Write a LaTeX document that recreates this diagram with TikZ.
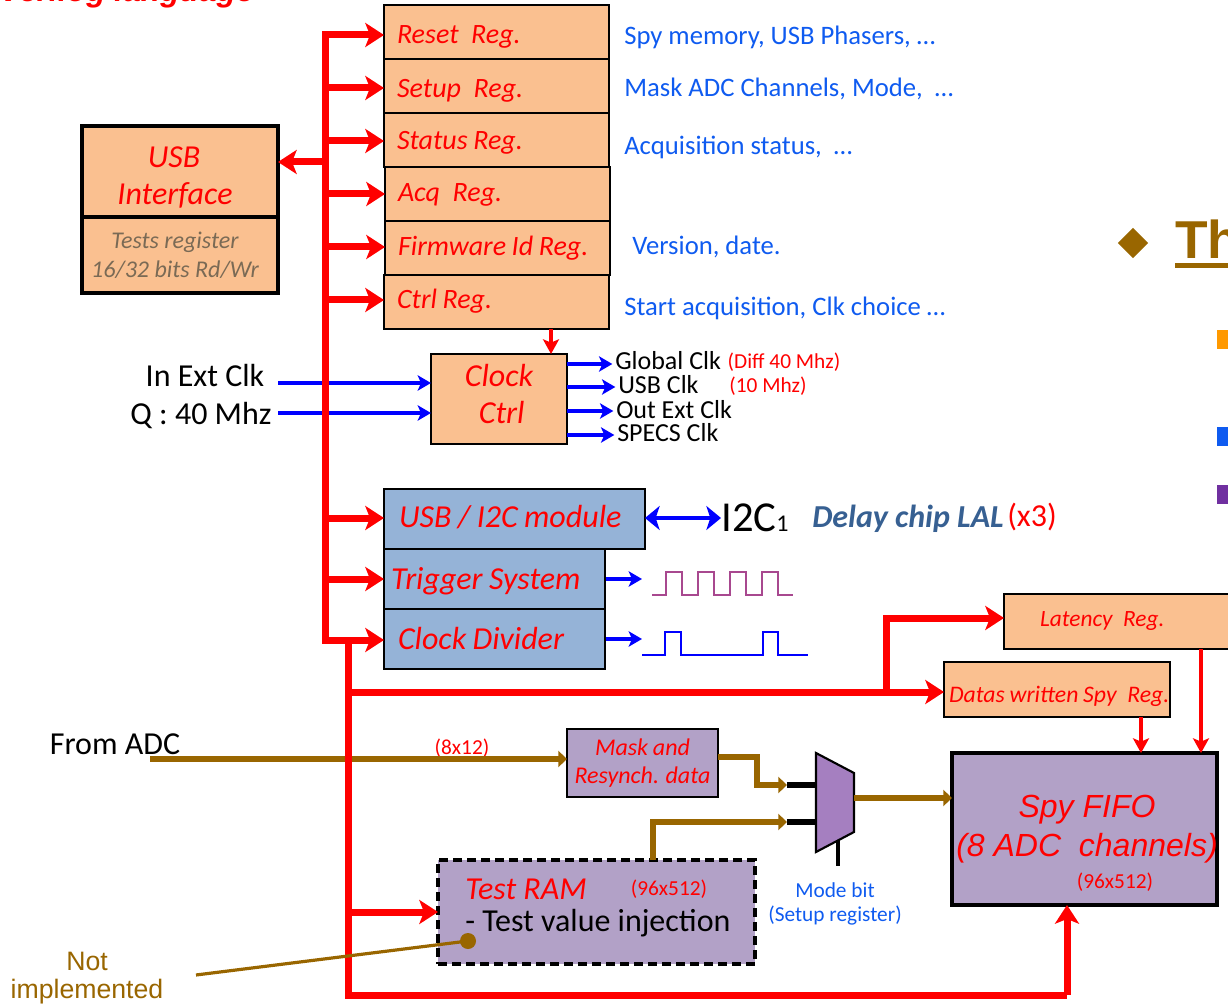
\documentclass[tikz,border=0pt]{standalone}
\usepackage{fontspec}
\setmainfont{Carlito}
\newfontfamily\arialfont{Liberation Sans}
\usepackage{xcolor}
\usepackage{tikz}
\usetikzlibrary{arrows.meta,positioning,calc,shapes.geometric}
\definecolor{regorange}{HTML}{FAC090}
\definecolor{modblue}{HTML}{95B3D7}
\definecolor{fifopurple}{HTML}{B2A1C7}
\definecolor{muxpurple}{HTML}{A57FC0}
\definecolor{adcbrown}{HTML}{996600}
\definecolor{notewblue}{HTML}{0F5BF0}
\definecolor{chipblue}{HTML}{376092}
\definecolor{testgray}{HTML}{7A6A55}
\definecolor{wavepurple}{HTML}{A8488F}
\definecolor{bulletorange}{HTML}{FF9900}
\definecolor{bulletpurple}{HTML}{7030A0}
\newcommand{\fsize}[1]{\fontsize{#1}{1.2\dimexpr#1pt\relax}\selectfont}
\newcommand{\tightit}{\itshape\spaceskip=.2em\relax}
\tikzset{
  plainbox/.style={draw,line width=1.8pt,anchor=north west,inner sep=0pt,outer sep=0pt,text=red},
  regbox/.style={plainbox,fill=regorange,
    minimum width=168.75pt,minimum height=40.5pt,text width=149.25pt,align=flush left,
    text height=17pt,text depth=0pt,font=\fsize{21}\tightit},
  modbox/.style={plainbox,fill=modblue,
    minimum height=45pt,align=flush left,text height=15pt,text depth=0pt,font=\fsize{24}\tightit},
  sidenote/.style={anchor=west,inner sep=0pt,text=notewblue,font=\fsize{20}},
  clklabel/.style={anchor=west,inner sep=0pt,font=\fsize{19.5}},
  redsmall/.style={anchor=center,inner sep=0pt,text=red,font=\fsize{16}},
  blacktext/.style={inner sep=0pt,font=\fsize{24}},
  busline/.style={draw=red,line width=5.25pt},
  busarrow/.style={red,line width=5.25pt,-{Stealth[length=14pt,width=18pt,inset=3.5pt]}},
  thinred/.style={red,line width=2.6pt,-{Stealth[length=11pt,width=12pt,inset=2.5pt]}},
  clkarrow/.style={blue,line width=2.6pt,-{Stealth[length=10pt,width=11.5pt,inset=2.5pt]}},
  dataarrow/.style={adcbrown,line width=4pt,-{Stealth[length=6.5pt,width=12pt,inset=0pt]}}
}

\begin{document}
\begin{tikzpicture}[x=.75pt,y=-.75pt]
  \useasboundingbox (0,0) rectangle (1228,1005);
  \clip (0,0) rectangle (1228,1005);
  % registers
  \node[regbox] (resetreg) at (384,5) {Reset\hspace{.45em}Reg.};
  \node[regbox,below=0pt of resetreg] (setupreg) {Setup\hspace{.45em}Reg.};
  \node[regbox,below=0pt of setupreg,text height=14pt] (statusreg) {Status Reg.};
  \node[regbox,below=0pt of statusreg,xshift=.75pt,text height=11pt] (acqreg) {Acq\hspace{.45em}Reg.};
  \node[regbox,below=0pt of acqreg,text height=11pt] (firmwarereg) {Firmware Id Reg.};
  \node[regbox,below=0pt of firmwarereg,xshift=-.75pt,text height=9.5pt] (ctrlreg) {Ctrl Reg.};
  % usb interface
  \node[plainbox,line width=3pt,fill=regorange,minimum width=147pt,minimum height=68.25pt,
    align=center,font=\fsize{24}\itshape] (usbif) at (82,126) {\rule{0pt}{24pt}\hspace*{-9pt}USB\\[-1pt]\hspace*{-7.5pt}Interface};
  \node[plainbox,line width=3pt,fill=regorange,below=0pt of usbif,anchor=north,minimum width=147pt,minimum height=57pt,
    align=center,text=testgray,font=\fsize{18}\itshape] (testsreg) {\hspace*{-7.5pt}Tests register\\\hspace*{-7.5pt}16/32 bits Rd/Wr};
  % clock control
  \node[plainbox,fill=regorange,minimum width=102pt,minimum height=67.5pt,
    align=center,font=\fsize{24}\itshape] (clockctrl) at (431,354) {Clock\\[-1pt]\hspace*{4pt}Ctrl\rule[-7pt]{0pt}{1pt}};
  % modules
  \node[modbox,minimum width=195.75pt,text width=173pt,text height=12pt] (i2cmod) at (384,489) {USB / I2C module};
  \node[modbox,minimum width=165.75pt,text width=155pt,below=0pt of i2cmod.south west,anchor=north west] (trigsys) {Trigger System};
  \node[modbox,minimum width=165.75pt,text width=144.75pt,below=0pt of trigsys.south west,anchor=north west] (clkdiv) {Clock Divider};
  % lower registers and fifo
  \node[plainbox,fill=regorange,minimum width=180pt,minimum height=41.25pt,
    text width=126pt,align=flush left,font=\fsize{17.5}\tightit] (latencyreg) at (1004,594) {Latency\hspace{.45em}Reg.};
  \node[plainbox,fill=regorange,minimum width=169.5pt,minimum height=41.25pt,
    text width=162pt,align=flush left,text height=18.8pt,text depth=0pt,font=\fsize{17.8}\tightit] (datasreg) at (944,662) {\mbox{Datas written Spy\hspace{.45em}Reg.}};
  \node[plainbox,line width=3pt,fill=fifopurple,minimum width=198.75pt,minimum height=114pt] (spyfifo) at (952,753) {};
  \node[plainbox,fill=fifopurple,minimum width=113.25pt,minimum height=51pt,
    align=flush center,font=\fsize{18}\tightit] (maskres) at (567,729) {Mask and\\[0pt]Resynch. data};
  \node[plainbox,line width=2.4pt,dash pattern=on 6.5pt off 4pt,fill=fifopurple,minimum width=237.75pt,minimum height=78pt] (testram) at (438,860) {};
  % labels
  \node[anchor=west,inner sep=0pt,text=red,font=\arialfont\fsize{23.8}\bfseries\itshape] (titletext) at (-1,-7) {Verilog language};
  \node[sidenote] (resetnote) at (624,37.5) {Spy memory, USB Phasers, …};
  \node[sidenote] (setupnote) at (624,89) {Mask ADC Channels, Mode,~ …};
  \node[sidenote] (statusnote) at (624,147.5) {Acquisition status,~ …};
  \node[sidenote] (firmnote) at (632,247) {Version, date.};
  \node[sidenote] (ctrlnote) at (624,308.5) {Start acquisition, Clk choice …};
  \node[blacktext,anchor=center] (inclk) at (205,376) {In Ext Clk};
  \node[blacktext,anchor=center] (qclk) at (201,416) {Q : 40 Mhz};
  \node[clklabel] (globalclk) at (615,361) {Global Clk};
  \node[clklabel] (usbclk) at (618,385) {USB Clk};
  \node[clklabel] (outclk) at (616,410) {Out Ext Clk};
  \node[clklabel] (specsclk) at (617,433) {SPECS Clk};
  \node[redsmall] (diffnote) at (784,362) {(Diff 40 Mhz)};
  \node[redsmall] (usbnote) at (768,386) {(10 Mhz)};
  \node[anchor=west,inner sep=0pt,font=\fsize{32}] (i2cone) at (721,518) {I2C\raisebox{0pt}{\fsize{18}1}};
  \node[anchor=west,inner sep=0pt,text=chipblue,font=\fsize{24}\bfseries\itshape] (delaychip) at (812,519) {Delay chip LAL};
  \node[anchor=west,inner sep=0pt,text=red,font=\fsize{24}] (xthree) at (1007,517) {(x3)};
  \node[blacktext,anchor=center] (fromadc) at (115,744) {From ADC};
  \node[redsmall] (adcwidth) at (462,748) {(8x12)};
  \node[anchor=center,inner sep=0pt,text=red,font=\arialfont\fsize{24}\itshape] (spytext) at (1087,810) {Spy FIFO};
  \node[anchor=center,inner sep=0pt,text=red,font=\arialfont\fsize{24}\itshape] (spychan) at (1087,848) {(8 ADC~ channels)};
  \node[redsmall] (spysize) at (1115,882) {(96x512)};
  \node[anchor=west,inner sep=0pt,text=red,font=\fsize{24}\itshape] (ramtext) at (465,889) {Test RAM};
  \node[redsmall] (ramsize) at (669,889) {(96x512)};
  \node[blacktext,anchor=west] (ramnote) at (465,923) {- Test value injection};
  \node[anchor=center,inner sep=0pt,text=notewblue,font=\fsize{16}] (modebit) at (835,890) {Mode bit};
  \node[anchor=center,inner sep=0pt,text=notewblue,font=\fsize{16}] (setupnotetwo) at (835,916) {(Setup register)};
  \node[anchor=center,inner sep=0pt,text=adcbrown,font=\arialfont\fsize{20}] (nottext) at (87,961) {Not};
  \node[anchor=center,inner sep=0pt,text=adcbrown,font=\arialfont\fsize{20}] (impltext) at (87,992) {implemented};
  % right side of the slide
  \node[diamond,fill=adcbrown,inner sep=0pt,minimum size=23pt] (slidemark) at (1133,243) {};
  \node[anchor=west,inner sep=0pt,text=adcbrown,font=\arialfont\fsize{40}\bfseries] (slidetitle) at (1175,239) {Th};
  \fill[adcbrown] (1175,263) rectangle (1228,268);
  \fill[bulletorange] (1217,330) rectangle (1228,349);
  \fill[notewblue] (1217,427) rectangle (1228,446);
  \fill[bulletpurple] (1217,485) rectangle (1228,504);
  % free ends and bus corners
  \coordinate (bustop) at (325,35);
  \coordinate (busjoin) at (325,640);
  \coordinate (lowbus) at (348,640);
  \coordinate (lowbusend) at (348,995);
  \coordinate (fifocorner) at (1067,995);
  \coordinate (bustap) at (886,692);
  \coordinate (usbtap) at (325,162);
  \coordinate (inclkend) at (278,383);
  \coordinate (qclkend) at (278,413);
  \coordinate (adcstart) at (150,759);
  \coordinate (notstart) at (196,975);
  \coordinate (ramdot) at (468,941);
  \coordinate (muxtopin) at (787,785);
  \coordinate (muxlowin) at (787,822);
  \coordinate (selend) at (838,866);
  \coordinate (muxwest) at (816,802);
  \coordinate (muxeast) at (854,802);
  % input lines pass behind the bus
  \draw[clkarrow] (inclkend) -- (inclkend -| clockctrl.west);
  \draw[clkarrow] (qclkend) -- (qclkend -| clockctrl.west);
  \draw[dataarrow] (adcstart) -- (adcstart -| maskres.west);
  % main bus
  \draw[busline] ($(bustop)+(3.5,0)$) -- (bustop) -- (busjoin) -- (lowbus) -- (lowbusend) -- (fifocorner);
  \draw[busarrow] (fifocorner) -- (fifocorner |- spyfifo.south);
  \draw[busarrow] (bustop) -- (bustop -| resetreg.west);
  \draw[busarrow] (325,88) -- (setupreg.west |- 325,88);
  \draw[busarrow] (325,141) -- (statusreg.west |- 325,141);
  \draw[busarrow] (325,194) -- (acqreg.west |- 325,194);
  \draw[busarrow] (325,247) -- (firmwarereg.west |- 325,247);
  \draw[busarrow] (325,300) -- (ctrlreg.west |- 325,300);
  \draw[busarrow] (usbtap) -- (usbif.east |- usbtap);
  \draw[busarrow] (325,518) -- (i2cmod.west |- 325,518);
  \draw[busarrow] (325,579) -- (trigsys.west |- 325,579);
  \draw[busarrow] (busjoin) -- (clkdiv.west |- busjoin);
  \draw[busarrow] (lowbus |- bustap) -- (datasreg.west |- bustap);
  \draw[busarrow] (bustap) -- (886,618) -- (latencyreg.west |- 886,618);
  \draw[busarrow] (348,912) -- (testram.west |- 348,912);
  % control arrows
  \draw[thinred] (ctrlreg.south -| 551,0) -- (clockctrl.north -| 551,0);
  \draw[thinred] (datasreg.south -| 1141,0) -- (spyfifo.north -| 1141,0);
  \draw[thinred] (latencyreg.south -| 1201,0) -- (spyfifo.north -| 1201,0);
  % clock outputs
  \draw[clkarrow,shorten >=2pt] (clockctrl.east |- 0,364) -- (globalclk.west |- 0,364);
  \draw[clkarrow,shorten >=2pt] (clockctrl.east |- 0,387) -- (usbclk.west |- 0,387);
  \draw[clkarrow,shorten >=2pt] (clockctrl.east |- 0,411) -- (outclk.west |- 0,411);
  \draw[clkarrow,shorten >=2pt] (clockctrl.east |- 0,435) -- (specsclk.west |- 0,435);
  \draw[clkarrow,{Stealth[length=11pt,width=18pt,inset=3pt]}-{Stealth[length=11pt,width=18pt,inset=3pt]}] (i2cmod.east |- i2cone.west) -- (i2cone.west);
  \draw[clkarrow] (606,579) -- (642,579);
  \draw[clkarrow] (606,639) -- (642,639);
  % waves
  \draw[wavepurple,line width=2pt] (652,595) -- (666,595) -- (666,572) -- (682,572) -- (682,595) -- (698,595) -- (698,572) -- (714,572) -- (714,595) -- (730,595) -- (730,572) -- (746,572) -- (746,595) -- (762,595) -- (762,572) -- (778,572) -- (778,595) -- (793,595);
  \draw[blue,line width=2pt] (642,655) -- (665,655) -- (665,632) -- (681,632) -- (681,655) -- (763,655) -- (763,632) -- (778,632) -- (778,655) -- (808,655);
  % data path
  \draw[dataarrow] (maskres.east |- 718,757) -- (757,757) -- (757,785) -- (muxtopin);
  \draw[dataarrow] (testram.north -| 653,0) -- (653,822) -- (muxlowin);
  \draw[black,line width=3.8pt] (muxtopin) -- (muxtopin -| muxwest);
  \draw[black,line width=3.8pt] (muxlowin) -- (muxlowin -| muxwest);
  \draw[black,line width=3pt] (selend |- 838,838) -- (selend);
  \draw[draw=black,line width=1.6pt,fill=muxpurple] (816,753) -- (854,773) -- (854,832) -- (816,852) -- cycle;
  \draw[dataarrow] (muxeast |- 854,798) -- (spyfifo.west |- 854,798);
  % not implemented
  \draw[adcbrown,line width=2.4pt] (notstart) -- (ramdot);
  \fill[adcbrown] (ramdot) circle (8);
\end{tikzpicture}
\end{document}
